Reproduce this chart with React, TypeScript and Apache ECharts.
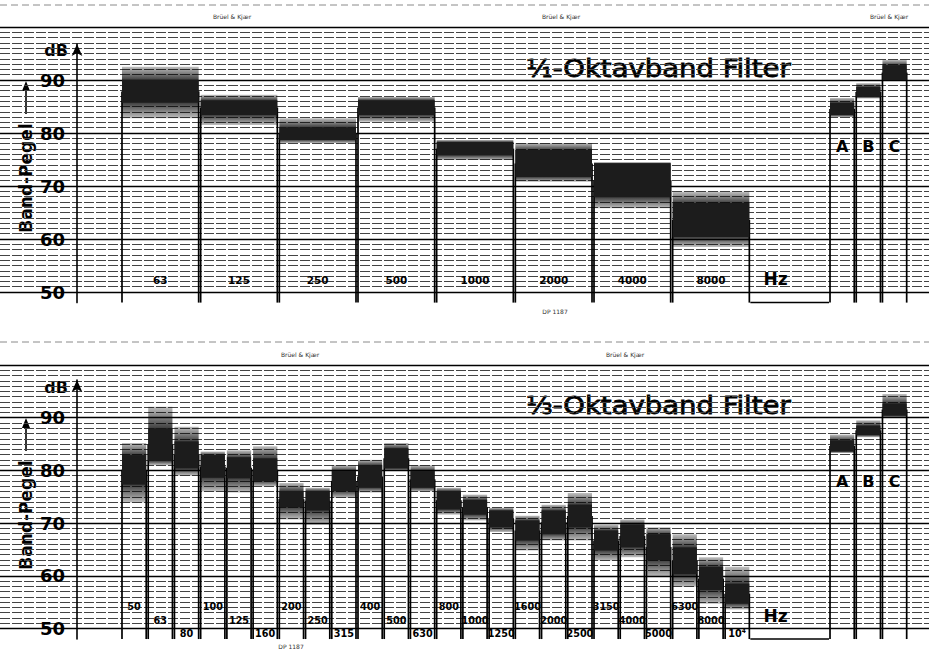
import { useEffect, useRef } from 'react';
import * as echarts from 'echarts';

// ---- 1/1-octave sweep: band centre frequencies and trace envelope (dB) ----
const octaveBands = ['63', '125', '250', '500', '1000', '2000', '4000', '8000'];
const octavePeakHigh = [92.5, 87.2, 82.8, 86.8, 78.7, 78.1, 74.5, 68.9];
const octaveBodyHigh = [90.0, 86.2, 81.1, 86.2, 78.3, 76.8, 74.3, 66.8];
const octaveBodyLow = [85.7, 83.4, 78.7, 83.4, 75.8, 71.7, 67.9, 60.4];
const octavePeakLow = [82.8, 81.5, 78.1, 82.1, 74.9, 70.8, 65.8, 58.5];

// weighted overall levels recorded after the octave sweep
const weightings = ['A', 'B', 'C'];
const octWeightPeakHigh = [86.6, 89.4, 93.8];
const octWeightBodyHigh = [85.7, 88.7, 92.8];
const octWeightBodyLow = [83.4, 86.8, 90.0];
const octWeightPeakLow = [83.0, 86.5, 89.8];

// ---- 1/3-octave sweep ----
const thirdBands = [
  '50', '63', '80', '100', '125', '160', '200', '250', '315', '400', '500', '630',
  '800', '1000', '1250', '1600', '2000', '2500', '3150', '4000', '5000', '6300', '8000', '10⁴',
];
const thirdPeakHigh = [85.2, 92.1, 88.3, 83.6, 83.8, 84.6, 77.6, 76.7, 81.0, 82.0, 85.2, 81.0, 76.7, 75.4, 72.9, 71.4, 73.5, 75.7, 69.7, 70.7, 69.2, 67.9, 63.5, 61.7];
const thirdBodyHigh = [82.9, 88.0, 85.5, 82.9, 82.5, 82.3, 76.1, 76.1, 79.9, 81.0, 84.2, 79.9, 76.1, 74.4, 72.4, 70.5, 72.4, 73.5, 68.6, 69.7, 67.9, 65.4, 61.7, 58.5];
const thirdBodyLow = [77.3, 81.8, 80.4, 78.6, 78.5, 78.0, 73.0, 72.4, 76.1, 76.7, 80.4, 76.7, 72.6, 71.6, 69.2, 66.7, 67.9, 69.2, 64.8, 65.4, 63.0, 60.3, 57.3, 54.7];
const thirdPeakLow = [73.9, 81.0, 79.0, 76.0, 75.8, 77.0, 70.7, 69.7, 74.8, 75.8, 79.9, 76.0, 71.6, 70.5, 68.3, 64.8, 66.7, 66.7, 62.9, 63.5, 59.8, 57.9, 54.7, 53.6];

const thirdWeightPeakHigh = [86.8, 89.5, 94.5];
const thirdWeightBodyHigh = [85.7, 88.5, 92.7];
const thirdWeightBodyLow = [83.6, 86.7, 90.4];
const thirdWeightPeakLow = [83.3, 86.3, 90.0];

// recorder paper scale
const yTicks = [50, 60, 70, 80, 90];
const PEN_FLOOR = 48; // pen rests here between bands and in the empty "Hz" slot
const PAPER_TOP = 100;

const FONT = '"DejaVu Sans", sans-serif';

// x is measured in octaves from the lower edge of the 63 Hz octave
const X_MIN = -1.538;
const X_MAX = 10.271;

function bandRows(start: number, width: number, ph: number[], bh: number[], bl: number[], pl: number[]) {
  return ph.map((_, i) => [start + i * width, start + (i + 1) * width, ph[i], bh[i], bl[i], pl[i]]);
}

type LabelPos = (i: number) => { level: number; size: number; scaleX: number };

function bandRenderer(labels: string[], labelPos: LabelPos) {
  return (params: any, api: any) => {
    const i = params.dataIndex;
    const x0 = api.value(0);
    const x1 = api.value(1);
    const [l, yFloor] = api.coord([x0, PEN_FLOOR]);
    const r = api.coord([x1, PEN_FLOOR])[0];
    const yPHi = api.coord([x0, api.value(2)])[1];
    const yBHi = api.coord([x0, api.value(3)])[1];
    const yBLo = api.coord([x0, api.value(4)])[1];
    const yPLo = api.coord([x0, api.value(5)])[1];
    const yMid = (yBHi + yBLo) / 2;
    const el = l + 1;
    const er = r - 1;
    const span = Math.max(yPLo - yPHi, 0.01);
    const fHi = Math.min(Math.max((yBHi - yPHi) / span, 0), 1);
    const fLo = Math.min(Math.max((yBLo - yPHi) / span, fHi), 1);
    const edge = { stroke: '#000', lineWidth: 1.7 };
    const lab = labelPos(i);
    const [cx, ly] = api.coord([(x0 + x1) / 2, lab.level]);
    return {
      type: 'group',
      children: [
        { type: 'line', shape: { x1: el, y1: yFloor, x2: el, y2: yMid }, style: edge },
        { type: 'line', shape: { x1: er, y1: yFloor, x2: er, y2: yMid }, style: edge },
        {
          type: 'rect',
          shape: { x: el, y: yPHi, width: er - el, height: span },
          style: {
            fill: new echarts.graphic.LinearGradient(0, 0, 0, 1, [
              { offset: 0, color: 'rgba(0,0,0,0.25)' },
              { offset: fHi, color: 'rgba(0,0,0,0.75)' },
              { offset: fLo, color: 'rgba(0,0,0,0.75)' },
              { offset: 1, color: 'rgba(0,0,0,0.25)' },
            ]),
          },
        },
        { type: 'rect', shape: { x: el, y: yBHi, width: er - el, height: yBLo - yBHi }, style: { fill: '#1c1c1c' } },
        {
          type: 'text',
          x: cx,
          y: ly,
          scaleX: lab.scaleX,
          style: {
            text: labels[i],
            fill: '#000',
            fontSize: lab.size,
            fontWeight: 'bold',
            fontFamily: FONT,
            align: 'center',
            verticalAlign: 'middle',
          },
        },
      ],
    };
  };
}

function hzRenderer(params: any, api: any) {
  const [l, y] = api.coord([api.value(0), api.value(2)]);
  const r = api.coord([api.value(1), api.value(2)])[0];
  const ly = api.coord([api.value(0), 52.4])[1];
  return {
    type: 'group',
    children: [
      { type: 'line', shape: { x1: l, y1: y, x2: r, y2: y }, style: { stroke: '#000', lineWidth: 1.5 } },
      {
        type: 'text',
        x: l + (r - l) * 0.32,
        y: ly,
        style: { text: 'Hz', fill: '#000', fontSize: 17, fontWeight: 'bold', fontFamily: FONT, align: 'center', verticalAlign: 'middle' },
      },
    ],
  };
}

const tickValues = (): number[] => {
  const out: number[] = [];
  for (let v = PEN_FLOOR; v <= PAPER_TOP; v++) out.push(v);
  return out;
};
const minorColors = tickValues().map((v) => (v < 50 || v % 10 === 0 ? 'rgba(0,0,0,0)' : '#444'));
const majorColors = tickValues().map((v) => (v >= 50 && v % 10 === 0 ? '#000' : 'rgba(0,0,0,0)'));

function paperAxes(gridIndex: number) {
  const base = {
    type: 'value',
    gridIndex,
    min: PEN_FLOOR,
    max: PAPER_TOP,
    interval: 1,
    axisLine: { show: false },
    axisTick: { show: false },
    axisLabel: { show: false },
  };
  return [
    { ...base, splitLine: { show: true, lineStyle: { color: minorColors, width: 1, type: [10, 2] } } },
    { ...base, splitLine: { show: true, lineStyle: { color: majorColors, width: 1.4 } } },
  ];
}

function scaleAxis(gridIndex: number, max: number) {
  return {
    type: 'value',
    gridIndex,
    min: PEN_FLOOR,
    max,
    interval: 1,
    axisLine: { show: true, symbol: ['none', 'arrow'], symbolSize: [8, 12], lineStyle: { color: '#000', width: 1.6 } },
    axisTick: { show: false },
    splitLine: { show: false },
    axisLabel: {
      margin: 12,
      color: '#000',
      fontSize: 18,
      fontWeight: 'bold',
      fontFamily: FONT,
      formatter: (v: number) => (yTicks.includes(v) ? String(v) : ''),
    },
  };
}

const hiddenX = (gridIndex: number, min: number, max: number) => ({ type: 'value', gridIndex, min, max, show: false });

function sideTexts(dy: number, title: string) {
  return [
    { type: 'line', shape: { x1: 0, y1: 5 + dy, x2: 929, y2: 5 + dy }, style: { stroke: '#8a8a8a', lineWidth: 1, lineDash: [7, 4] } },
    { type: 'text', x: 56, y: 50 + dy, style: { text: 'dB', fill: '#000', fontSize: 16, fontWeight: 'bold', fontFamily: FONT, align: 'center', verticalAlign: 'middle' } },
    {
      type: 'text',
      x: 26,
      y: 178 + dy,
      rotation: Math.PI / 2,
      style: { text: 'Band-Pegel', fill: '#000', fontSize: 17, fontWeight: 'bold', fontFamily: FONT, align: 'center', verticalAlign: 'middle' },
    },
    { type: 'line', shape: { x1: 26, y1: 114 + dy, x2: 26, y2: 88 + dy }, style: { stroke: '#000', lineWidth: 1.6 } },
    { type: 'polygon', shape: { points: [[22, 91 + dy], [30, 91 + dy], [26, 81 + dy]] }, style: { fill: '#000' } },
    {
      type: 'text',
      x: 526,
      y: 68 + dy,
      scaleX: 1.1,
      style: {
        text: title,
        fill: '#000',
        stroke: '#000',
        lineWidth: 0.8,
        fontSize: 25,
        fontFamily: FONT,
        align: 'left',
        verticalAlign: 'middle',
      },
    },
  ];
}

const smallText = (text: string, x: number, y: number) => ({
  type: 'text',
  x,
  y,
  style: { text, fill: '#333', fontSize: 6, fontFamily: FONT, align: 'center', verticalAlign: 'middle' },
});

export default function App() {
  const ref = useRef<HTMLDivElement>(null);

  useEffect(() => {
    if (!ref.current) return;
    const chart = echarts.init(ref.current, undefined, { renderer: 'svg' });

    const topH = (PAPER_TOP - PEN_FLOOR) * 5.3;
    const botH = (PAPER_TOP - PEN_FLOOR) * 5.27;

    const octaveRows = bandRows(0, 1, octavePeakHigh, octaveBodyHigh, octaveBodyLow, octavePeakLow);
    const octWeightRows = bandRows(9, 1 / 3, octWeightPeakHigh, octWeightBodyHigh, octWeightBodyLow, octWeightPeakLow);
    const thirdRows = bandRows(0, 1 / 3, thirdPeakHigh, thirdBodyHigh, thirdBodyLow, thirdPeakLow);
    const thirdWeightRows = bandRows(9, 1 / 3, thirdWeightPeakHigh, thirdWeightBodyHigh, thirdWeightBodyLow, thirdWeightPeakLow);
    const hzRow = [[8, 9, PEN_FLOOR]];

    const thirdTier = [54.3, 51.6, 49.1];

    chart.setOption({
      animation: false,
      backgroundColor: '#fff',
      grid: [
        { left: 0, right: 0, top: 27, height: topH, outerBoundsMode: 'none' },
        { left: 77, width: 20, top: 44, height: 27 + topH - 44, outerBoundsMode: 'none' },
        { left: 0, right: 0, top: 365, height: botH, outerBoundsMode: 'none' },
        { left: 77, width: 20, top: 380, height: 365 + botH - 380, outerBoundsMode: 'none' },
      ],
      xAxis: [hiddenX(0, X_MIN, X_MAX), hiddenX(1, 0, 1), hiddenX(2, X_MIN, X_MAX), hiddenX(3, 0, 1)],
      yAxis: [
        ...paperAxes(0),
        scaleAxis(1, PAPER_TOP - (44 - 27) / 5.3),
        ...paperAxes(2),
        scaleAxis(3, PAPER_TOP - (380 - 365) / 5.27),
      ],
      series: [
        {
          type: 'custom',
          name: '1/1 Oktav',
          xAxisIndex: 0,
          yAxisIndex: 0,
          clip: false,
          renderItem: bandRenderer(octaveBands, () => ({ level: 52.1, size: 11, scaleX: 0.95 })),
          data: octaveRows,
        },
        {
          type: 'custom',
          name: '1/1 Bewertung',
          xAxisIndex: 0,
          yAxisIndex: 0,
          clip: false,
          renderItem: bandRenderer(weightings, () => ({ level: 77.5, size: 16, scaleX: 1 })),
          data: octWeightRows,
        },
        { type: 'custom', name: '1/1 Hz', xAxisIndex: 0, yAxisIndex: 0, clip: false, renderItem: hzRenderer, data: hzRow },
        {
          type: 'custom',
          name: '1/3 Oktav',
          xAxisIndex: 2,
          yAxisIndex: 3,
          clip: false,
          renderItem: bandRenderer(thirdBands, (i) => ({ level: thirdTier[i % 3], size: 11, scaleX: 0.88 })),
          data: thirdRows,
        },
        {
          type: 'custom',
          name: '1/3 Bewertung',
          xAxisIndex: 2,
          yAxisIndex: 3,
          clip: false,
          renderItem: bandRenderer(weightings, () => ({ level: 77.8, size: 16, scaleX: 1 })),
          data: thirdWeightRows,
        },
        { type: 'custom', name: '1/3 Hz', xAxisIndex: 2, yAxisIndex: 3, clip: false, renderItem: hzRenderer, data: hzRow },
      ],
      graphic: [
        ...sideTexts(0, '¹⁄₁-Oktavband Filter'),
        ...sideTexts(337, '⅓-Oktavband Filter'),
        smallText('Brüel & Kjær', 232, 16),
        smallText('Brüel & Kjær', 561, 16),
        smallText('Brüel & Kjær', 889, 16),
        smallText('Brüel & Kjær', 300, 354),
        smallText('Brüel & Kjær', 625, 354),
        smallText('DP 1187', 555, 311),
        smallText('DP 1187', 291, 646),
      ],
    });

    return () => chart.dispose();
  }, []);

  return <div ref={ref} style={{ position: 'absolute', left: 0, top: 0, width: 929, height: 649 }} />;
}
